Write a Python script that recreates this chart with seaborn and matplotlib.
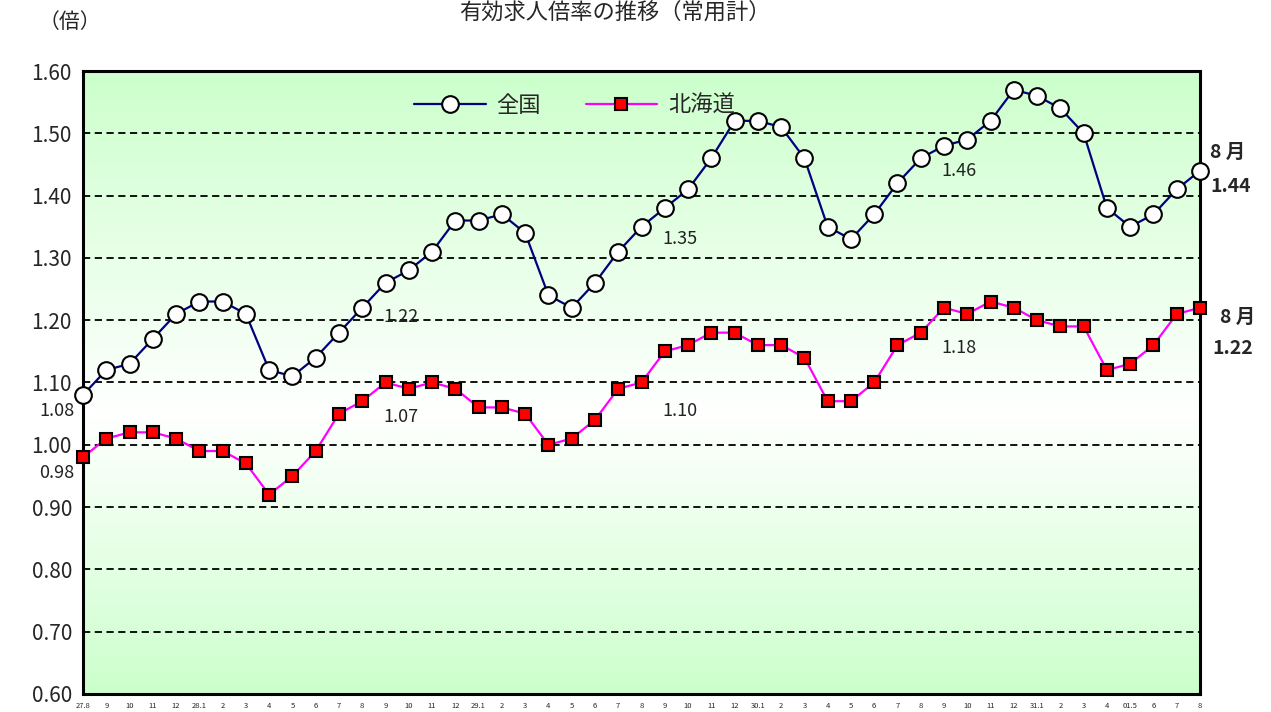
import numpy as np
import pandas as pd
import matplotlib
matplotlib.use("Agg")
import matplotlib.pyplot as plt
import seaborn as sns
from matplotlib.colors import LinearSegmentedColormap

sns.set_style("white")
plt.rcParams['font.family'] = ['Noto Sans CJK JP', 'DejaVu Sans']
plt.rcParams['axes.unicode_minus'] = False

# 月ラベル（H27.8 〜 R1.8）
months = ["27.8", "9", "10", "11", "12", "28.1", "2", "3", "4", "5", "6", "7", "8",
          "9", "10", "11", "12", "29.1", "2", "3", "4", "5", "6", "7", "8",
          "9", "10", "11", "12", "30.1", "2", "3", "4", "5", "6", "7", "8",
          "9", "10", "11", "12", "31.1", "2", "3", "4", "01.5", "6", "7", "8"]

zenkoku = [1.08, 1.12, 1.13, 1.17, 1.21, 1.23, 1.23, 1.21, 1.12, 1.11, 1.14, 1.18, 1.22,
           1.26, 1.28, 1.31, 1.36, 1.36, 1.37, 1.34, 1.24, 1.22, 1.26, 1.31, 1.35,
           1.38, 1.41, 1.46, 1.52, 1.52, 1.51, 1.46, 1.35, 1.33, 1.37, 1.42, 1.46,
           1.48, 1.49, 1.52, 1.57, 1.56, 1.54, 1.50, 1.38, 1.35, 1.37, 1.41, 1.44]

hokkaido = [0.98, 1.01, 1.02, 1.02, 1.01, 0.99, 0.99, 0.97, 0.92, 0.95, 0.99, 1.05, 1.07,
            1.10, 1.09, 1.10, 1.09, 1.06, 1.06, 1.05, 1.00, 1.01, 1.04, 1.09, 1.10,
            1.15, 1.16, 1.18, 1.18, 1.16, 1.16, 1.14, 1.07, 1.07, 1.10, 1.16, 1.18,
            1.22, 1.21, 1.23, 1.22, 1.20, 1.19, 1.19, 1.12, 1.13, 1.16, 1.21, 1.22]

yticks = [0.60, 0.70, 0.80, 0.90, 1.00, 1.10, 1.20, 1.30, 1.40, 1.50, 1.60]

df = pd.DataFrame({"idx": range(len(months)), "全国": zenkoku, "北海道": hokkaido})

fig = plt.figure(figsize=(12.71, 7.12), dpi=100)
ax = fig.add_axes([83/1271, 18/712, 1117/1271, 623/712])

# 背景グラデーション（上下が緑、中央が白）
cmap = LinearSegmentedColormap.from_list("bg", [(0, "#ccffcc"), (0.55, "#ffffff"), (1, "#ccffcc")])
grad = np.linspace(0, 1, 256).reshape(-1, 1)
ax.imshow(grad, aspect="auto", cmap=cmap, extent=[0, 1, 0, 1], transform=ax.transAxes, zorder=0)

sns.lineplot(data=df, x="idx", y="全国", ax=ax, color="#000080", lw=1.6, marker="o",
             markersize=12, markerfacecolor="white", markeredgecolor="black",
             markeredgewidth=1.5, label="全国", zorder=4)
sns.lineplot(data=df, x="idx", y="北海道", ax=ax, color="#ff00ff", lw=1.6, marker="s",
             markersize=9, markerfacecolor="#ff0000", markeredgecolor="black",
             markeredgewidth=1.5, label="北海道", zorder=4)
for ln in ax.lines:
    ln.set_clip_on(False)

ax.set_xlim(0, len(months) - 1)
ax.set_ylim(0.60, 1.60)
ax.set_yticks(yticks)
ax.set_yticklabels([f"{v:.2f}" for v in yticks], fontsize=15)
ax.set_xticks(range(len(months)))
ax.set_xticklabels(months, fontsize=5.5)
ax.tick_params(axis="x", length=0, pad=6)
ax.tick_params(axis="y", length=0, pad=8)
ax.set_xlabel("")
ax.set_ylabel("")
for yv in yticks[1:]:
    ax.axhline(yv, color="black", ls=(0, (4, 2.5)), lw=1.3, zorder=2)
for s in ax.spines.values():
    s.set_color("black")
    s.set_linewidth(2.2)
    s.set_zorder(3)

leg = ax.legend(loc="upper center", bbox_to_anchor=(0.44, 0.995), ncol=2, frameon=False,
                fontsize=16, handlelength=3.2, columnspacing=2.0, handletextpad=0.5)

# 注記
notes = [(12, "1.22", 1.205), (12, "1.07", 1.045), (24, "1.35", 1.33),
         (24, "1.10", 1.055), (36, "1.46", 1.44), (36, "1.18", 1.155)]
for i, t, ty in notes:
    ax.text(i + 0.9, ty, t, fontsize=13, ha="left", va="center", color="#222222")
ax.text(-0.35, 1.055, "1.08", fontsize=13, ha="right", va="center", color="#222222", clip_on=False)
ax.text(-0.35, 0.955, "0.98", fontsize=13, ha="right", va="center", color="#222222", clip_on=False)

ax.text(49.2, 1.47, "8 月", fontsize=14, fontweight="bold", ha="center", va="center", clip_on=False)
ax.text(49.3, 1.415, "1.44", fontsize=14, fontweight="bold", ha="center", va="center", clip_on=False)
ax.text(49.6, 1.205, "8 月", fontsize=14, fontweight="bold", ha="center", va="center", clip_on=False)
ax.text(49.4, 1.155, "1.22", fontsize=14, fontweight="bold", ha="center", va="center", clip_on=False)

fig.text(70/1271, 1 - 22/712, "（倍）", fontsize=15, ha="center", va="center")
fig.text(615/1271, 0.999, "有効求人倍率の推移（常用計）", fontsize=16, fontstyle="italic",
         ha="center", va="top")

fig.savefig("out.png", dpi=100)
